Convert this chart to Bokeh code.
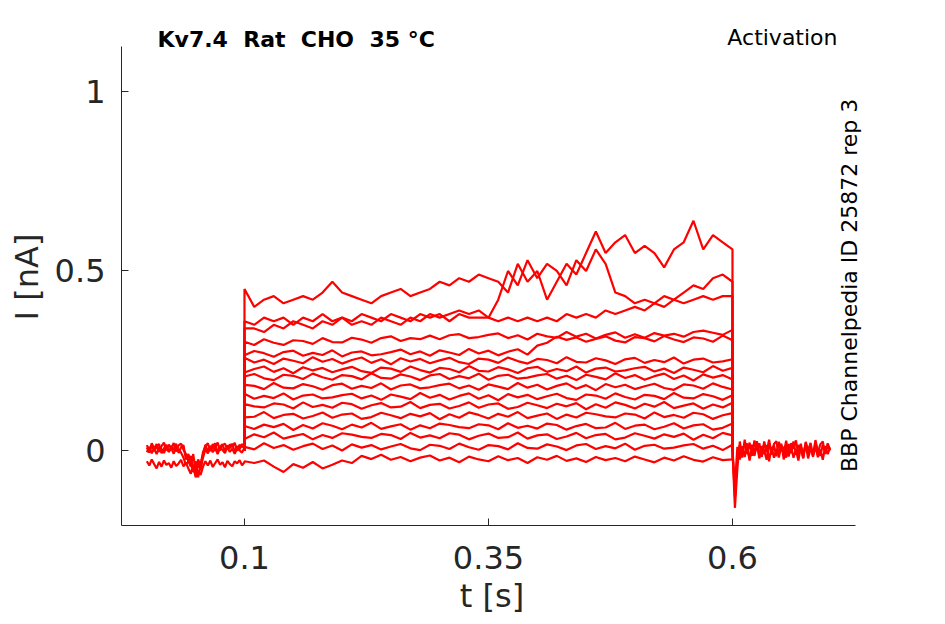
import numpy as np
from bokeh.plotting import figure
from bokeh.models import Label, FixedTicker
from bokeh.embed import file_html
from bokeh.resources import INLINE

# ---------------- data ----------------
TITLE = "Kv7.4\u00a0\u00a0Rat\u00a0\u00a0CHO\u00a0\u00a035 °C"
PROTOCOL = "Activation"
SIDE_NOTE = "BBP Channelpedia ID 25872 rep 3"
X_LABEL = "t [s]"
Y_LABEL = "I [nA]"
X_TICKS = [0.1, 0.35, 0.6]
X_TICK_LABELS = ["0.1", "0.35", "0.6"]
Y_TICKS = [0, 0.5, 1]
Y_TICK_LABELS = ["0", "0.5", "1"]
X_AXIS_BOUNDS = (-0.026, 0.726)
Y_AXIS_BOUNDS = (-0.209, 1.125)

T_ON = 0.1
T_OFF = 0.6

# sample times of the voltage step (s)
T_STEP = [0.10, 0.11, 0.12, 0.13, 0.14, 0.15, 0.16, 0.17, 0.18, 0.19,
          0.20, 0.21, 0.22, 0.23, 0.24, 0.25, 0.26, 0.27, 0.28, 0.29,
          0.30, 0.31, 0.32, 0.33, 0.34, 0.35, 0.36, 0.37, 0.38, 0.39,
          0.40, 0.41, 0.42, 0.43, 0.44, 0.45, 0.46, 0.47, 0.48, 0.49,
          0.50, 0.51, 0.52, 0.53, 0.54, 0.55, 0.56, 0.57, 0.58, 0.59,
          0.60]
# sample times before / after the step (s)
T_PRE = [0.0, 0.0025, 0.005, 0.0075, 0.01, 0.0125, 0.015, 0.0175, 0.02, 0.0225,
         0.025, 0.0275, 0.03, 0.0325, 0.035, 0.0375, 0.04, 0.0425, 0.045, 0.0475,
         0.05, 0.0525, 0.055, 0.0575, 0.06, 0.0625, 0.065, 0.0675, 0.07, 0.0725,
         0.075, 0.0775, 0.08, 0.0825, 0.085, 0.0875, 0.09, 0.0925, 0.095, 0.0975,
         0.1]
T_POST = [0.6, 0.6025, 0.605, 0.6075, 0.61, 0.6125, 0.615, 0.6175, 0.62, 0.6225,
          0.625, 0.6275, 0.63, 0.6325, 0.635, 0.6375, 0.64, 0.6425, 0.645, 0.6475,
          0.65, 0.6525, 0.655, 0.6575, 0.66, 0.6625, 0.665, 0.6675, 0.67, 0.6725,
          0.675, 0.6775, 0.68, 0.6825, 0.685, 0.6875, 0.69, 0.6925, 0.695, 0.6975,
          0.7]

# baseline current before the step (nA)
BASE_PRE_1 = [0.015, -0.002, 0.02, 0.005, 0.018, -0.004, 0.012, 0.022, 0.0, 0.016,
              0.006, 0.021, -0.003, 0.014, 0.019, 0.002, -0.01, -0.03, -0.045, -0.01,
              -0.06, -0.025, -0.04, -0.005, 0.012, 0.02, -0.002, 0.018, 0.008, 0.022,
              0.0, 0.015, 0.019, 0.003, 0.017, 0.01, 0.021, -0.001, 0.016, 0.009,
              0.02]
BASE_PRE_2 = [-0.005, 0.01, -0.008, 0.006, -0.01, 0.008, 0.003, -0.007, 0.011, -0.004,
              0.007, -0.009, 0.009, 0.001, -0.006, -0.02, -0.04, -0.03, -0.015, -0.05,
              -0.07, -0.035, -0.055, -0.02, 0.004, -0.008, 0.009, -0.005, 0.006, -0.01,
              0.008, 0.002, -0.007, 0.01, -0.004, 0.005, -0.009, 0.007, 0.0, -0.006,
              0.008]
BASE_PRE_3 = [0.008, -0.006, 0.014, -0.002, 0.01, 0.018, -0.008, 0.006, 0.016, -0.004,
              0.012, 0.002, 0.019, -0.007, 0.009, 0.015, -0.025, -0.01, -0.035, -0.06,
              -0.03, -0.075, -0.04, -0.012, 0.016, -0.003, 0.013, 0.004, 0.02, -0.006,
              0.011, 0.017, -0.002, 0.014, 0.006, 0.019, -0.005, 0.012, 0.003, 0.018,
              0.005]
BASE_PRE_LOW = [-0.03, -0.042, -0.025, -0.038, -0.05, -0.032, -0.045, -0.028, -0.04, -0.035,
                -0.048, -0.03, -0.043, -0.036, -0.026, -0.044, -0.034, -0.05, -0.065, -0.04,
                -0.075, -0.055, -0.068, -0.045, -0.03, -0.042, -0.028, -0.046, -0.035, -0.025,
                -0.04, -0.033, -0.047, -0.029, -0.038, -0.044, -0.03, -0.036, -0.027, -0.041,
                -0.033]
# tail current after the step (nA)
BASE_POST_1 = [0.0, -0.16, -0.05, 0.025, -0.02, 0.03, -0.01, 0.022, -0.015, 0.028,
               0.0, 0.02, -0.018, 0.025, -0.005, 0.03, -0.012, 0.018, 0.026, -0.02,
               0.015, -0.008, 0.027, -0.016, 0.02, 0.005, 0.028, -0.012, 0.019, -0.02,
               0.024, 0.0, 0.021, -0.014, 0.029, -0.006, 0.017, 0.025, -0.01, 0.02,
               0.003]
BASE_POST_2 = [0.0, -0.1, 0.01, -0.025, 0.012, -0.018, 0.02, -0.028, 0.008, -0.015,
               0.018, -0.022, 0.005, -0.01, 0.015, -0.03, 0.01, -0.02, 0.004, -0.012,
               0.019, -0.025, 0.007, -0.016, 0.013, -0.02, 0.002, -0.028, 0.011, -0.008,
               0.016, -0.022, 0.006, -0.014, 0.01, -0.019, 0.003, -0.026, 0.012, -0.01,
               0.008]
BASE_POST_3 = [0.0, -0.13, -0.02, 0.015, -0.01, 0.022, 0.004, -0.024, 0.016, -0.006,
               0.026, -0.014, 0.012, 0.0, -0.026, 0.02, -0.004, 0.014, -0.016, 0.024,
               -0.002, 0.01, -0.02, 0.018, -0.008, 0.025, -0.012, 0.015, 0.002, -0.022,
               0.02, -0.006, 0.013, -0.018, 0.022, 0.0, -0.015, 0.016, -0.004, 0.012,
               0.0]

# current during the step for each test voltage (nA)
TRACE_A = [0.45, 0.40, 0.42, 0.43, 0.41, 0.42, 0.43, 0.42, 0.44, 0.47,
           0.44, 0.43, 0.42, 0.41, 0.43, 0.44, 0.45, 0.43, 0.44, 0.45,
           0.47, 0.46, 0.48, 0.47, 0.49, 0.48, 0.47, 0.44, 0.52, 0.47,
           0.50, 0.42, 0.47, 0.52, 0.49, 0.55, 0.61, 0.55, 0.58, 0.60,
           0.55, 0.57, 0.55, 0.51, 0.56, 0.58, 0.64, 0.56, 0.60, 0.58,
           0.56]
TRACE_B = [0.36, 0.35, 0.37, 0.36, 0.37, 0.35, 0.37, 0.36, 0.38, 0.36,
           0.37, 0.36, 0.38, 0.37, 0.36, 0.38, 0.37, 0.36, 0.38, 0.37,
           0.38, 0.36, 0.38, 0.37, 0.37, 0.37, 0.42, 0.50, 0.46, 0.53,
           0.48, 0.52, 0.50, 0.46, 0.53, 0.50, 0.56, 0.52, 0.44, 0.43,
           0.41, 0.42, 0.41, 0.43, 0.42, 0.44, 0.46, 0.45, 0.48, 0.49,
           0.47]
TRACE_C = [0.34, 0.34, 0.33, 0.35, 0.34, 0.36, 0.35, 0.34, 0.36, 0.35,
           0.37, 0.35, 0.36, 0.35, 0.37, 0.36, 0.35, 0.37, 0.36, 0.38,
           0.37, 0.38, 0.39, 0.38, 0.39, 0.37, 0.36, 0.37, 0.36, 0.37,
           0.36, 0.37, 0.36, 0.38, 0.37, 0.38, 0.37, 0.39, 0.38, 0.39,
           0.40, 0.39, 0.41, 0.40, 0.42, 0.41, 0.42, 0.43, 0.42, 0.43,
           0.43]
TRACE_D = [0.303, 0.294, 0.310, 0.300, 0.294, 0.307, 0.305, 0.297, 0.313, 0.302,
           0.301, 0.314, 0.309, 0.300, 0.313, 0.318, 0.305, 0.313, 0.310, 0.320,
           0.310, 0.321, 0.324, 0.313, 0.316, 0.322, 0.326, 0.313, 0.321, 0.309,
           0.325, 0.318, 0.314, 0.330, 0.317, 0.325, 0.312, 0.322, 0.329, 0.314,
           0.324, 0.314, 0.327, 0.320, 0.325, 0.317, 0.330, 0.334, 0.328, 0.322,
           0.336]
TRACE_E = [0.265, 0.277, 0.271, 0.261, 0.274, 0.278, 0.264, 0.272, 0.266, 0.279,
           0.262, 0.273, 0.276, 0.265, 0.268, 0.274, 0.281, 0.268, 0.276, 0.264,
           0.279, 0.273, 0.266, 0.283, 0.270, 0.278, 0.265, 0.275, 0.282, 0.267,
           0.292, 0.300, 0.317, 0.308, 0.315, 0.303, 0.311, 0.318, 0.306, 0.301,
           0.316, 0.313, 0.304, 0.319, 0.309, 0.302, 0.315, 0.312, 0.303, 0.320,
           0.307]
TRACE_F = [0.258, 0.245, 0.253, 0.241, 0.256, 0.250, 0.243, 0.260, 0.247, 0.255,
           0.242, 0.252, 0.259, 0.244, 0.254, 0.240, 0.257, 0.248, 0.255, 0.243,
           0.251, 0.258, 0.246, 0.241, 0.256, 0.253, 0.244, 0.259, 0.249, 0.242,
           0.255, 0.252, 0.243, 0.260, 0.247, 0.245, 0.257, 0.251, 0.241, 0.254,
           0.258, 0.244, 0.252, 0.246, 0.259, 0.242, 0.253, 0.256, 0.245, 0.248,
           0.254]
TRACE_G = [0.217, 0.227, 0.234, 0.219, 0.229, 0.215, 0.232, 0.223, 0.230, 0.218,
           0.226, 0.233, 0.221, 0.216, 0.231, 0.228, 0.219, 0.234, 0.224, 0.217,
           0.230, 0.227, 0.218, 0.235, 0.222, 0.220, 0.232, 0.226, 0.216, 0.229,
           0.233, 0.219, 0.227, 0.221, 0.234, 0.217, 0.228, 0.231, 0.220, 0.223,
           0.229, 0.233, 0.220, 0.228, 0.216, 0.231, 0.225, 0.218, 0.235, 0.222,
           0.230]
TRACE_H = [0.206, 0.213, 0.201, 0.196, 0.211, 0.208, 0.199, 0.214, 0.204, 0.197,
           0.210, 0.207, 0.198, 0.215, 0.202, 0.200, 0.212, 0.206, 0.196, 0.209,
           0.213, 0.199, 0.207, 0.201, 0.214, 0.197, 0.208, 0.211, 0.200, 0.203,
           0.209, 0.213, 0.200, 0.208, 0.196, 0.211, 0.205, 0.198, 0.215, 0.202,
           0.210, 0.197, 0.207, 0.214, 0.199, 0.209, 0.195, 0.212, 0.203, 0.210,
           0.198]
TRACE_I = [0.183, 0.180, 0.171, 0.188, 0.175, 0.173, 0.185, 0.179, 0.169, 0.182,
           0.186, 0.172, 0.180, 0.174, 0.187, 0.170, 0.181, 0.184, 0.173, 0.176,
           0.182, 0.186, 0.173, 0.181, 0.169, 0.184, 0.178, 0.171, 0.188, 0.175,
           0.183, 0.170, 0.180, 0.187, 0.172, 0.182, 0.168, 0.185, 0.176, 0.183,
           0.171, 0.179, 0.186, 0.174, 0.169, 0.184, 0.181, 0.172, 0.187, 0.177,
           0.170]
TRACE_J = [0.158, 0.144, 0.152, 0.146, 0.159, 0.142, 0.153, 0.156, 0.145, 0.148,
           0.154, 0.158, 0.145, 0.153, 0.141, 0.156, 0.150, 0.143, 0.160, 0.147,
           0.155, 0.142, 0.152, 0.159, 0.144, 0.154, 0.140, 0.157, 0.148, 0.155,
           0.143, 0.151, 0.158, 0.146, 0.141, 0.156, 0.153, 0.144, 0.159, 0.149,
           0.142, 0.155, 0.152, 0.143, 0.160, 0.147, 0.145, 0.157, 0.151, 0.141,
           0.154]
TRACE_K = [0.129, 0.123, 0.120, 0.131, 0.128, 0.117, 0.134, 0.121, 0.127, 0.119,
           0.133, 0.129, 0.116, 0.126, 0.132, 0.120, 0.122, 0.135, 0.118, 0.127,
           0.130, 0.117, 0.124, 0.134, 0.119, 0.128, 0.131, 0.116, 0.121, 0.133,
           0.126, 0.118, 0.130, 0.123, 0.132, 0.115, 0.129, 0.119, 0.134, 0.127,
           0.117, 0.130, 0.122, 0.135, 0.118, 0.125, 0.131, 0.116, 0.128, 0.120,
           0.133]
TRACE_L = [0.092, 0.094, 0.107, 0.090, 0.099, 0.102, 0.089, 0.096, 0.106, 0.091,
           0.100, 0.103, 0.088, 0.093, 0.105, 0.098, 0.090, 0.102, 0.095, 0.104,
           0.087, 0.101, 0.091, 0.106, 0.099, 0.089, 0.102, 0.094, 0.107, 0.090,
           0.097, 0.103, 0.088, 0.100, 0.092, 0.105, 0.101, 0.095, 0.092, 0.103,
           0.100, 0.089, 0.106, 0.093, 0.099, 0.091, 0.105, 0.101, 0.088, 0.098,
           0.104]
TRACE_M = [0.068, 0.060, 0.072, 0.065, 0.074, 0.057, 0.071, 0.061, 0.076, 0.069,
           0.059, 0.072, 0.064, 0.077, 0.060, 0.067, 0.073, 0.058, 0.070, 0.062,
           0.075, 0.071, 0.065, 0.062, 0.073, 0.070, 0.059, 0.076, 0.063, 0.069,
           0.061, 0.075, 0.071, 0.058, 0.068, 0.074, 0.062, 0.064, 0.077, 0.060,
           0.069, 0.072, 0.059, 0.066, 0.076, 0.061, 0.070, 0.073, 0.058, 0.063,
           0.075]
TRACE_N = [0.032, 0.045, 0.037, 0.050, 0.033, 0.040, 0.046, 0.031, 0.043, 0.035,
           0.048, 0.044, 0.038, 0.035, 0.046, 0.043, 0.032, 0.049, 0.036, 0.042,
           0.034, 0.048, 0.044, 0.031, 0.041, 0.047, 0.035, 0.037, 0.050, 0.033,
           0.042, 0.045, 0.032, 0.039, 0.049, 0.034, 0.043, 0.046, 0.031, 0.036,
           0.048, 0.041, 0.033, 0.045, 0.038, 0.047, 0.030, 0.044, 0.034, 0.049,
           0.042]
TRACE_O = [0.010, 0.003, 0.020, 0.007, 0.015, 0.002, 0.012, 0.019, 0.004, 0.014,
           0.000, 0.017, 0.008, 0.015, 0.003, 0.011, 0.018, 0.006, 0.001, 0.016,
           0.013, 0.004, 0.019, 0.009, 0.002, 0.015, 0.012, 0.003, 0.020, 0.007,
           0.005, 0.017, 0.011, 0.001, 0.014, 0.018, 0.004, 0.012, 0.006, 0.019,
           0.002, 0.013, 0.016, 0.005, 0.008, 0.014, 0.018, 0.005, 0.013, 0.001,
           0.016]
TRACE_P = [-0.030, -0.035, -0.028, -0.045, -0.060, -0.038, -0.048, -0.032, -0.050, -0.040,
           -0.028, -0.035, -0.015, -0.024, -0.012, -0.026, -0.018, -0.030, -0.020, -0.014,
           -0.028, -0.020, -0.033, -0.017, -0.025, -0.030, -0.016, -0.027, -0.021, -0.035,
           -0.019, -0.026, -0.015, -0.029, -0.022, -0.032, -0.018, -0.027, -0.021, -0.030,
           -0.017, -0.025, -0.033, -0.020, -0.028, -0.016, -0.026, -0.031, -0.019, -0.027,
           -0.025]

STEP_TRACES = [TRACE_A, TRACE_B, TRACE_C, TRACE_D, TRACE_E, TRACE_F, TRACE_G, TRACE_H,
               TRACE_I, TRACE_J, TRACE_K, TRACE_L, TRACE_M, TRACE_N, TRACE_O]
PRE_BASELINES = [BASE_PRE_1, BASE_PRE_2, BASE_PRE_3]
POST_BASELINES = [BASE_POST_1, BASE_POST_2, BASE_POST_3]

for i, tr in enumerate(STEP_TRACES + [TRACE_P]):
    if len(tr) != len(T_STEP):
        raise ValueError(f"trace {i} has {len(tr)} points")
for b in PRE_BASELINES + [BASE_PRE_LOW]:
    if len(b) != len(T_PRE):
        raise ValueError("pre baseline length")
for b in POST_BASELINES:
    if len(b) != len(T_POST):
        raise ValueError("post baseline length")

# ---------------- style ----------------
RED = "#ff0000"
AX = "#262626"
FONT = "DejaVu Sans"
LW = 2.2

p = figure(width=929, height=620,
           x_range=(-0.026, 0.7332), y_range=(-0.209, 1.1755),
           output_backend="svg", toolbar_location=None,
           min_border_left=121, min_border_right=67,
           min_border_top=28, min_border_bottom=95)
p.grid.visible = False
p.outline_line_color = None
p.background_fill_color = "white"
p.border_fill_color = "white"

# baselines
for b in PRE_BASELINES:
    p.line(T_PRE, b, line_color=RED, line_width=LW)
for b in POST_BASELINES:
    p.line(T_POST, b, line_color=RED, line_width=LW)

# step traces
for tr in STEP_TRACES:
    xs = [T_ON] + T_STEP + [T_OFF]
    ys = [0.0] + tr + [0.0]
    p.line(xs, ys, line_color=RED, line_width=LW)

# lowest trace with its own baseline
p.line(T_PRE + T_STEP + [T_OFF], BASE_PRE_LOW + TRACE_P + [0.0],
       line_color=RED, line_width=LW)

# axes
for ax in (p.xaxis[0], p.yaxis[0]):
    ax.axis_line_color = AX
    ax.axis_line_width = 1
    ax.major_tick_line_color = AX
    ax.major_tick_in = 7
    ax.major_tick_out = 0
    ax.minor_tick_line_color = None
    ax.major_label_text_font = FONT
    ax.major_label_text_font_size = "32px"
    ax.major_label_text_color = AX
    ax.axis_label_text_font = FONT
    ax.axis_label_text_font_size = "32px"
    ax.axis_label_text_font_style = "normal"
    ax.axis_label_text_color = AX

p.xaxis.bounds = X_AXIS_BOUNDS
p.yaxis.bounds = Y_AXIS_BOUNDS
p.xaxis.ticker = FixedTicker(ticks=X_TICKS)
p.xaxis.major_label_overrides = dict(zip(X_TICKS, X_TICK_LABELS))
p.yaxis.ticker = FixedTicker(ticks=Y_TICKS)
p.yaxis.major_label_overrides = dict(zip(Y_TICKS, Y_TICK_LABELS))
p.xaxis.axis_label = X_LABEL
p.yaxis.axis_label = Y_LABEL
p.xaxis.major_label_standoff = 20
p.xaxis.axis_label_standoff = 5
p.yaxis.major_label_standoff = 16
p.yaxis.axis_label_standoff = 6

# texts
p.add_layout(Label(x=0.0109, y=1.145, text=TITLE, text_font=FONT,
                   text_font_size="22px", text_font_style="bold",
                   text_color="black", text_align="left", text_baseline="middle"))
p.add_layout(Label(x=0.7076, y=1.150, text=PROTOCOL, text_font=FONT,
                   text_font_size="22px", text_color="black",
                   text_align="right", text_baseline="middle"))
p.add_layout(Label(x=0.7199, y=0.46, text=SIDE_NOTE, text_font=FONT,
                   text_font_size="22px", text_color="black", angle=np.pi / 2,
                   text_align="center", text_baseline="middle"))

open("out.html", "w").write(file_html(p, INLINE))
